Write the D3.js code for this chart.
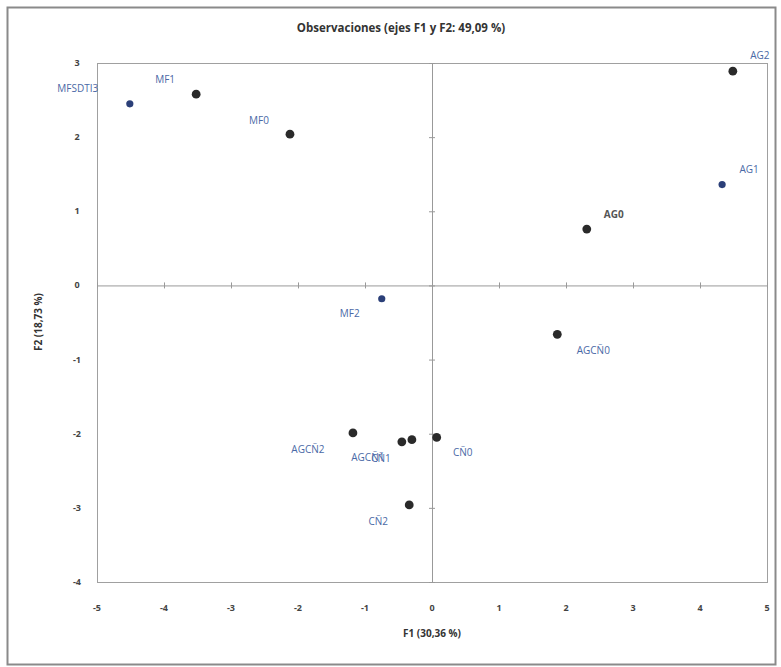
<!DOCTYPE html>
<html>
<head>
<meta charset="utf-8">
<script src="https://cdn.jsdelivr.net/npm/d3@7"></script>
<style>
	body { margin: 0; background: #fff; }
	text { font-family: "Open Sans", "Noto Sans", sans-serif; }
</style>
</head>
<body>
<svg id="chart" width="781" height="667"></svg>
<script>
// observations on F1 / F2
var names = ['MFSDTI3', 'MF1', 'MF0', 'AG2', 'AG1', 'AG0', 'MF2', 'AGCÑ0', 'AGCÑ2', 'AGCÑ1', 'CÑ1', 'CÑ0', 'CÑ2'];
var f1 = [-4.51, -3.52, -2.12, 4.49, 4.33, 2.31, -0.75, 1.87, -1.18, -0.45, -0.30, 0.07, -0.34];
var f2 = [2.45, 2.58, 2.04, 2.89, 1.36, 0.76, -0.18, -0.66, -1.99, -2.11, -2.08, -2.05, -2.96];
var group = ['b', 'k', 'k', 'k', 'b', 'k', 'b', 'k', 'k', 'k', 'k', 'k', 'k'];
var xTicks = [-5, -4, -3, -2, -1, 0, 1, 2, 3, 4, 5];
var yTicks = [-4, -3, -2, -1, 0, 1, 2, 3];

// label placement (pixels, relative to the dot)
var labelOffset = {
	'MFSDTI3': [-52, -15], 'MF1': [-31, -14], 'MF0': [-31, -13],
	'AG2': [27, -15], 'AG1': [27, -15], 'AG0': [27, -14],
	'MF2': [-32, 15], 'AGCÑ0': [36, 17], 'AGCÑ2': [-45, 17],
	'AGCÑ1': [-34, 16], 'CÑ1': [-31, 19], 'CÑ0': [26, 16], 'CÑ2': [-31, 17]
};

var svg = d3.select('#chart');
var plotLeft = 97, plotRight = 767, plotTop = 63, plotBottom = 582;

var x = d3.scaleLinear().domain([-5, 5]).range([plotLeft, plotRight]);
var y = d3.scaleLinear().domain([-4, 3]).range([plotBottom, plotTop]);

// outer frame
svg.append('rect')
	.attr('x', 7.5).attr('y', 7.5)
	.attr('width', 768).attr('height', 657)
	.attr('fill', 'none').attr('stroke', '#8a8a8a').attr('stroke-width', 2);

svg.append('text')
	.attr('x', 401).attr('y', 32)
	.attr('text-anchor', 'middle')
	.attr('font-size', 11.5).attr('font-weight', 'bold').attr('fill', '#333')
	.text('Observaciones (ejes F1 y F2: 49,09 %)');

// plot box
svg.append('rect')
	.attr('x', plotLeft + 0.5).attr('y', plotTop + 0.5)
	.attr('width', plotRight - plotLeft).attr('height', plotBottom - plotTop)
	.attr('fill', 'none').attr('stroke', '#a0a0a0');

// zero lines with ticks
var xAxis = d3.axisBottom(x).tickValues(xTicks).tickSize(6).tickFormat('');
var yAxis = d3.axisLeft(y).tickValues(yTicks).tickSize(6).tickFormat('');

var gx = svg.append('g').attr('transform', 'translate(0,' + (y(0) - 3) + ')').call(xAxis);
gx.select('.domain').remove();
gx.selectAll('line').attr('stroke', '#999');
svg.append('line')
	.attr('x1', plotLeft).attr('x2', plotRight)
	.attr('y1', y(0) + 0.5).attr('y2', y(0) + 0.5)
	.attr('stroke', '#999');

var gy = svg.append('g').attr('transform', 'translate(' + (x(0) + 3) + ',0)').call(yAxis);
gy.select('.domain').remove();
gy.selectAll('line').attr('stroke', '#999');
svg.append('line')
	.attr('x1', x(0) + 0.5).attr('x2', x(0) + 0.5)
	.attr('y1', plotTop).attr('y2', plotBottom)
	.attr('stroke', '#999');

// tick labels outside the box
svg.append('g').selectAll('text').data(xTicks).enter().append('text')
	.attr('x', function(d) { return x(d); })
	.attr('y', 611)
	.attr('text-anchor', 'middle')
	.attr('font-size', 9).attr('font-weight', 'bold').attr('fill', '#444')
	.text(function(d) { return d; });

svg.append('g').selectAll('text').data(yTicks).enter().append('text')
	.attr('x', 77)
	.attr('y', function(d) { return y(d) + 3; })
	.attr('text-anchor', 'middle')
	.attr('font-size', 9).attr('font-weight', 'bold').attr('fill', '#444')
	.text(function(d) { return d; });

svg.append('text')
	.attr('x', x(0)).attr('y', 637)
	.attr('text-anchor', 'middle')
	.attr('font-size', 10).attr('font-weight', 'bold').attr('fill', '#333')
	.text('F1 (30,36 %)');

svg.append('text')
	.attr('transform', 'translate(42,322) rotate(-90)')
	.attr('text-anchor', 'middle')
	.attr('font-size', 10).attr('font-weight', 'bold').attr('fill', '#333')
	.text('F2 (18,73 %)');

// points
var points = names.map(function(n, i) {
	return {name: n, f1: f1[i], f2: f2[i], group: group[i]};
});

svg.append('g').selectAll('circle').data(points).enter().append('circle')
	.attr('cx', function(d) { return x(d.f1); })
	.attr('cy', function(d) { return y(d.f2); })
	.attr('r', function(d) { return d.group == 'b' ? 3.6 : 4.4; })
	.attr('fill', function(d) { return d.group == 'b' ? '#2b3f78' : '#2a2a2a'; });

svg.append('g').selectAll('text').data(points).enter().append('text')
	.attr('x', function(d) { return x(d.f1) + labelOffset[d.name][0]; })
	.attr('y', function(d) { return y(d.f2) + labelOffset[d.name][1] + 3; })
	.attr('text-anchor', 'middle')
	.attr('font-size', 10)
	.attr('font-weight', function(d) { return d.name == 'AG0' ? 'bold' : 'normal'; })
	.attr('fill', function(d) { return d.name == 'AG0' ? '#555' : '#4a69a6'; })
	.text(function(d) { return d.name; });
</script>
</body>
</html>
